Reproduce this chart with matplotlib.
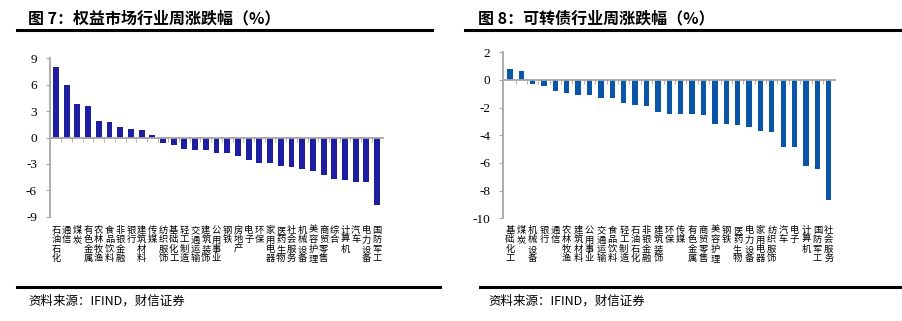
import numpy as np
import matplotlib
matplotlib.use("Agg")
import matplotlib.pyplot as plt
import matplotlib.transforms as mtransforms

plt.rcParams['font.family'] = ['Liberation Serif', 'Noto Sans CJK SC']

# 图7 data: equity market weekly change by industry (%)
equity_inds = ["石油石化", "通信", "煤炭", "有色金属", "农林牧渔", "食品饮料",
               "非银金融", "银行", "建筑材料", "传媒", "纺织服饰", "基础化工",
               "轻工制造", "交通运输", "建筑装饰", "公用事业", "钢铁", "房地产",
               "电子", "环保", "家用电器", "医药生物", "社会服务", "机械设备",
               "美容护理", "商贸零售", "综合", "计算机", "汽车", "电力设备",
               "国防军工"]
equity_chg = [7.98, 5.91, 3.80, 3.54, 1.88, 1.73, 1.17, 1.02, 0.90, 0.34,
              -0.60, -0.90, -1.32, -1.43, -1.47, -1.75, -1.75, -2.15, -2.56,
              -2.86, -2.86, -3.28, -3.39, -3.54, -3.84, -4.25, -4.67, -4.82,
              -5.08, -5.08, -7.72]

# 图8 data: convertible bond weekly change by industry (%)
cb_inds = ["基础化工", "煤炭", "机械设备", "银行", "通信", "农林牧渔", "建筑材料",
           "公用事业", "交通运输", "食品饮料", "轻工制造", "石油石化", "非银金融",
           "建筑装饰", "环保", "传媒", "有色金属", "商贸零售", "美容护理", "钢铁",
           "医药生物", "电力设备", "家用电器", "纺织服饰", "汽车", "电子",
           "计算机", "国防军工", "社会服务"]
cb_chg = [0.82, 0.65, -0.29, -0.41, -0.77, -0.94, -1.11, -1.11, -1.30, -1.30,
          -1.64, -1.83, -1.90, -2.34, -2.43, -2.43, -2.43, -2.53, -3.16, -3.16,
          -3.25, -3.42, -3.69, -3.78, -4.84, -4.84, -6.19, -6.46, -8.70]

W, H = 902, 321
fig = plt.figure(figsize=(W / 100, H / 100), dpi=100)

CJK = ['Noto Sans CJK SC', 'DejaVu Sans']
AXC = '#a6a6a6'


def box(x0, y0, x1, y1):
    """ pixel box (top-left origin) to figure fraction rect """
    return [x0 / W, 1 - y1 / H, (x1 - x0) / W, (y1 - y0) / H]


def industry_bars(rect, cats, vals, color, ylim, yticks, xlim, width):
    ax = fig.add_axes(rect)
    x = np.arange(len(cats))
    ax.bar(x, vals, width=width, color=color, zorder=2)
    ax.set_xlim(*xlim)
    ax.set_ylim(*ylim)
    ax.set_yticks(yticks)
    ax.set_yticklabels([str(t) for t in yticks], fontsize=9.5,
                       family='Liberation Serif')
    for s in ['top', 'right']:
        ax.spines[s].set_visible(False)
    ax.spines['bottom'].set_position(('data', 0))
    ax.spines['bottom'].set_zorder(3)
    for s in ['left', 'bottom']:
        ax.spines[s].set_color(AXC)
        ax.spines[s].set_linewidth(1.3)
    ax.tick_params(axis='y', direction='out', length=3, color=AXC, pad=6)
    ax.set_xticks([])
    ax.set_xticks(x[:-1] + 0.5, minor=True)
    ax.tick_params(axis='x', which='minor', direction='out', length=3,
                   color=AXC, labelbottom=False)
    # vertical category labels, one character per row on fixed baselines
    trans = mtransforms.blended_transform_factory(ax.transData, fig.transFigure)
    for i, c in enumerate(cats):
        for j, ch in enumerate(c):
            ax.text(i, 1 - (233 + 9.4 * j) / H, ch, transform=trans,
                    ha='center', va='baseline', fontsize=6.7, family=CJK,
                    clip_on=False)
    return ax


industry_bars(box(49.5, 58.3, 383, 216.7), equity_inds, equity_chg,
              '#1e1ea0', (-9, 9), [9, 6, 3, 0, -3, -6, -9], (-0.6, 30.55), 0.55)
industry_bars(box(503, 52.3, 835, 218.3), cb_inds, cb_chg,
              '#0a55a8', (-10, 2), [2, 0, -2, -4, -6, -8, -10],
              (-0.6, 28.55), 0.47)

# titles, rules and source notes
fig.text(28 / W, 1 - 18 / H, "图 7：权益市场行业周涨跌幅（%）", fontsize=11.5,
         weight='bold', family=CJK, va='center')
fig.text(478 / W, 1 - 18 / H, "图 8：可转债行业周涨跌幅（%）", fontsize=11.5,
         weight='bold', family=CJK, va='center')
for x0, x1 in [(17, 432), (465, 900)]:
    fig.add_artist(plt.Line2D([x0 / W, x1 / W], [1 - 29.5 / H] * 2,
                              color='black', lw=2.2))
for x0, x1 in [(17, 440), (480, 900)]:
    fig.add_artist(plt.Line2D([x0 / W, x1 / W], [1 - 287 / H] * 2,
                              color='black', lw=2.2))
fig.text(28 / W, 1 - 301 / H, "资料来源：IFIND，财信证券", fontsize=9,
         family=CJK, style='italic', va='center')
fig.text(488 / W, 1 - 301 / H, "资料来源：IFIND，财信证券", fontsize=9,
         family=CJK, style='italic', va='center')

fig.savefig("out.png", dpi=100)
